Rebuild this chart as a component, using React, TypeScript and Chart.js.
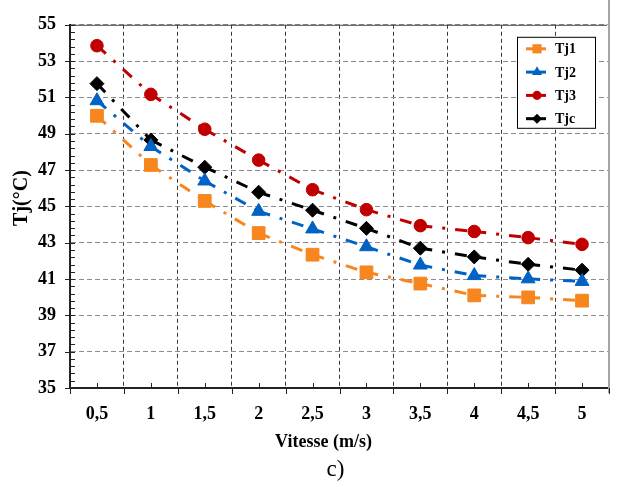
import React, { useEffect, useRef } from 'react';
import { Chart, registerables } from 'chart.js';

Chart.register(...registerables);

// ---- data ----
const categories = ['0,5', '1', '1,5', '2', '2,5', '3', '3,5', '4', '4,5', '5'];
const tj1 = [49.99, 47.28, 45.3, 43.53, 42.34, 41.37, 40.75, 40.1, 39.99, 39.81];
const tj2 = [50.82, 48.3, 46.4, 44.73, 43.76, 42.78, 41.77, 41.19, 41.01, 40.87];
const tj3 = [53.85, 51.17, 49.25, 47.55, 45.92, 44.82, 43.94, 43.62, 43.28, 42.91];
const tjc = [51.76, 48.66, 47.16, 45.78, 44.79, 43.79, 42.7, 42.22, 41.81, 41.49];
const seriesLabels = ['Tj1', 'Tj2', 'Tj3', 'Tjc'];
const yMin = 35;
const yMax = 55;
const yStep = 2;
const xTitle = 'Vitesse (m/s)';
const yTitle = 'Tj(°C)';
const caption = 'c)';

// ---- styles ----
const colors = ['#F7861E', '#0062C4', '#C00000', '#000000'];
const pointStyles = ['rect', 'triangle', 'circle', 'rectRot'];
const pointRadii = [9, 8, 6.3, 7];
const serif = '"Liberation Serif", "Times New Roman", serif';

function drawMarker(ctx: CanvasRenderingContext2D, style: string, x: number, y: number, r: number, color: string) {
  ctx.save();
  ctx.fillStyle = color;
  ctx.beginPath();
  if (style === 'rect') {
    const s = r * Math.SQRT1_2;
    ctx.rect(x - s, y - s, 2 * s, 2 * s);
  } else if (style === 'triangle') {
    ctx.moveTo(x, y - r);
    ctx.lineTo(x + r * 0.866, y + r / 2);
    ctx.lineTo(x - r * 0.866, y + r / 2);
    ctx.closePath();
  } else if (style === 'circle') {
    ctx.arc(x, y, r, 0, Math.PI * 2);
  } else {
    ctx.moveTo(x, y - r);
    ctx.lineTo(x + r, y);
    ctx.lineTo(x, y + r);
    ctx.lineTo(x - r, y);
    ctx.closePath();
  }
  ctx.fill();
  ctx.restore();
}

const decorPlugin = {
  id: 'decor',
  afterDraw(chart: any) {
    const ctx: CanvasRenderingContext2D = chart.ctx;
    const area = chart.chartArea;
    const xs = chart.scales.x;
    const ys = chart.scales.y;
    ctx.save();
    // top border
    ctx.strokeStyle = '#444';
    ctx.lineWidth = 1;
    ctx.beginPath();
    ctx.moveTo(area.left, area.top + 0.5);
    ctx.lineTo(area.right - 2, area.top + 0.5);
    ctx.stroke();
    // right frame
    ctx.strokeStyle = '#a6a6a6';
    ctx.lineWidth = 2;
    ctx.beginPath();
    ctx.moveTo(area.right, 0);
    ctx.lineTo(area.right, area.bottom + 5);
    ctx.stroke();

    // y ticks
    ctx.strokeStyle = '#222';
    ctx.lineWidth = 1;
    const nMinor = Math.round((yMax - yMin) / 0.4);
    for (let i = 0; i <= nMinor; i++) {
      const v = yMin + i * 0.4;
      const py = Math.round(ys.getPixelForValue(v)) + 0.5;
      const major = i % 5 === 0;
      ctx.beginPath();
      ctx.moveTo(area.left - (major ? 5 : 0), py);
      ctx.lineTo(area.left + 5, py);
      ctx.stroke();
    }
    // x ticks
    for (let i = 0; i <= categories.length; i++) {
      const px = Math.round(xs.getPixelForValue(i - 0.5)) + 0.5;
      ctx.beginPath();
      ctx.moveTo(px, area.bottom);
      ctx.lineTo(px, area.bottom + 6);
      ctx.stroke();
    }
    for (let i = 0; i < categories.length; i++) {
      const px = Math.round(xs.getPixelForValue(i)) + 0.5;
      ctx.beginPath();
      ctx.moveTo(px, area.bottom - 5);
      ctx.lineTo(px, area.bottom);
      ctx.stroke();
    }

    // legend
    const bx = area.right - 92;
    const by = area.top + 12;
    const bw = 78;
    const bh = 91;
    ctx.fillStyle = '#fff';
    ctx.fillRect(bx, by, bw, bh);
    ctx.strokeStyle = '#000';
    ctx.lineWidth = 1;
    ctx.strokeRect(bx + 0.5, by + 0.5, bw, bh);
    ctx.font = `bold 14px ${serif}`;
    ctx.textBaseline = 'middle';
    ctx.textAlign = 'left';
    chart.data.datasets.forEach((ds: any, i: number) => {
      const iy = by + 12 + i * 23.3;
      ctx.strokeStyle = colors[i];
      ctx.lineWidth = 3;
      ctx.beginPath();
      ctx.moveTo(bx + 9, iy);
      ctx.lineTo(bx + 29, iy);
      ctx.stroke();
      drawMarker(ctx, pointStyles[i], bx + 20, iy, pointRadii[i] * 0.72, colors[i]);
      ctx.fillStyle = '#000';
      ctx.fillText(ds.label, bx + 38, iy + 1);
    });

    // titles
    ctx.fillStyle = '#000';
    ctx.textAlign = 'center';
    ctx.textBaseline = 'alphabetic';
    ctx.font = `bold 18px ${serif}`;
    ctx.fillText(xTitle, (area.left + area.right) / 2 - 16, 447);
    ctx.font = `23px ${serif}`;
    ctx.fillText(caption, (area.left + area.right) / 2 - 4, 476);
    ctx.save();
    ctx.translate(22, 198);
    ctx.rotate(-Math.PI / 2);
    ctx.font = `bold 20px ${serif}`;
    ctx.textBaseline = 'middle';
    ctx.fillText(yTitle, 0, 0);
    ctx.restore();
    ctx.restore();
  },
};

export default function App() {
  const ref = useRef<HTMLCanvasElement | null>(null);
  useEffect(() => {
    if (!ref.current) return;
    const series = [tj1, tj2, tj3, tjc];
    const chart = new Chart(ref.current, {
      type: 'line',
      data: {
        labels: categories,
        datasets: series.map((d, i) => ({
          label: seriesLabels[i],
          data: d,
          borderColor: colors[i],
          backgroundColor: colors[i],
          borderWidth: 3,
          borderDash: [12, 10, 3, 10],
          borderCapStyle: 'butt',
          pointStyle: pointStyles[i],
          pointRadius: pointRadii[i],
          pointBorderWidth: 1,
          pointBorderColor: colors[i],
          pointBackgroundColor: colors[i],
          tension: 0,
          fill: false,
          segment: {
            borderDashOffset: (c: any) => c.p0DataIndex * 0.001,
          },
        })),
      },
      options: {
        responsive: false,
        animation: false,
        devicePixelRatio: 1,
        layout: { padding: { top: 11, right: 3, left: 0, bottom: 0 } },
        plugins: { legend: { display: false }, tooltip: { enabled: false } },
        scales: {
          x: {
            type: 'category',
            offset: true,
            grid: {
              offset: true,
              color: '#3a3a3a',
              lineWidth: 1,
              drawTicks: false,
            },
            border: { display: true, color: '#222', width: 2, dash: [4, 3] },
            ticks: {
              color: '#000',
              padding: 16,
              font: { family: serif, weight: 'bold', size: 18 },
              maxRotation: 0,
              autoSkip: false,
            },
            afterFit: (s: any) => { s.height = 99; },
          },
          y: {
            min: yMin,
            max: yMax,
            ticks: {
              stepSize: yStep,
              color: '#000',
              padding: 14,
              font: { family: serif, weight: 'bold', size: 18 },
            },
            grid: { color: '#8c8c8c', lineWidth: 1, drawTicks: false },
            border: { display: true, color: '#222', width: 2, dash: [5, 3] },
            afterFit: (s: any) => { s.width = 70; },
          },
        },
      },
      plugins: [decorPlugin],
    } as any);
    return () => chart.destroy();
  }, []);
  return (
    <div style={{ position: 'absolute', left: 0, top: 0, width: 619, height: 487, background: '#fff' }}>
      <canvas ref={ref} width={619} height={487} style={{ display: 'block' }} />
    </div>
  );
}
